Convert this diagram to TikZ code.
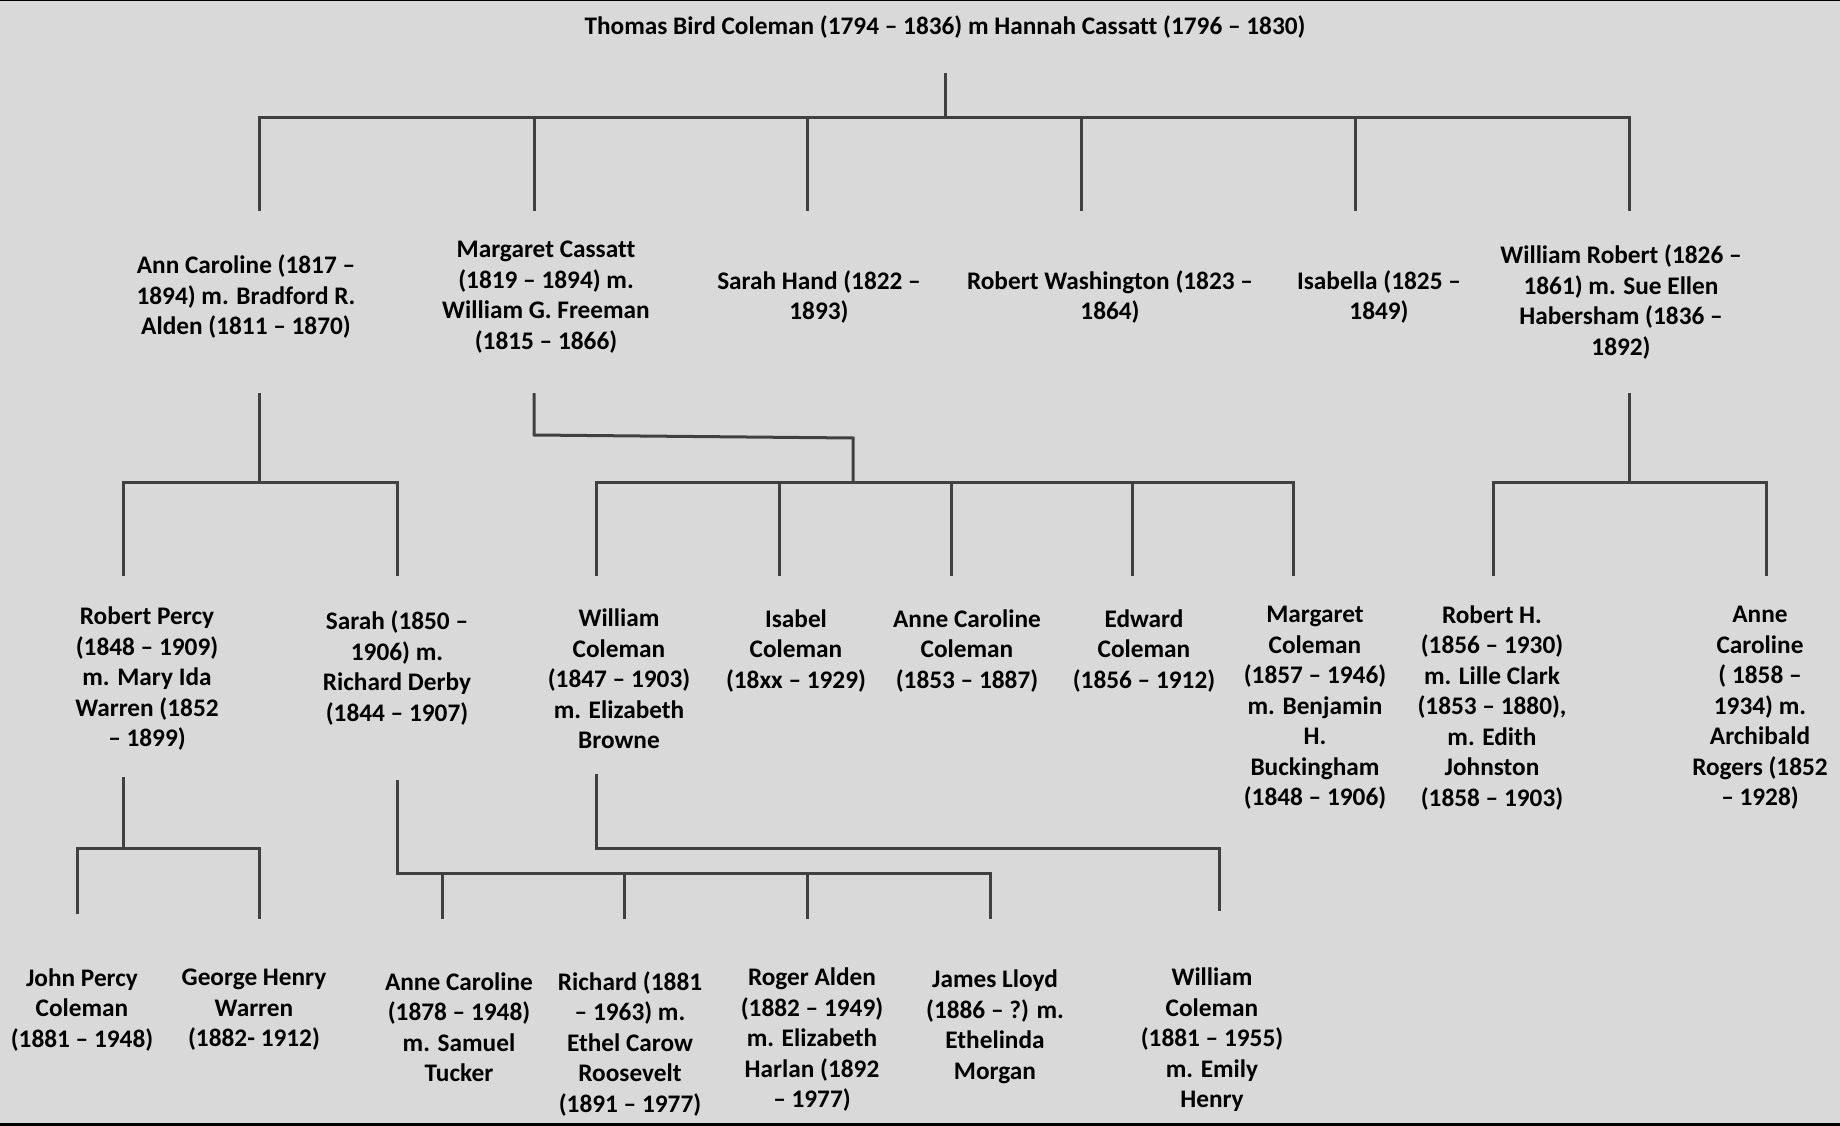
\documentclass[tikz,border=0pt]{standalone}
\usepackage{fontspec}
\setmainfont{Carlito}[Ligatures={NoCommon}]
\definecolor{bg}{RGB}{217,217,217}
\definecolor{linegray}{RGB}{64,64,64}
\tikzset{
  person/.style={align=center, inner sep=0pt, text=black, font=\fontsize{25.3pt}{30.5pt}\selectfont\bfseries},
  treeline/.style={draw=linegray, line width=3pt, line cap=butt, line join=miter}
}
\begin{document}
\begin{tikzpicture}[x=1pt,y=-1pt]
\fill[bg] (0,0) rectangle (1840,1126);
\useasboundingbox (0,0) rectangle (1840,1126);
\draw[black, line width=1.5pt] (0,0.75) -- (1840,0.75);
\draw[black, line width=3pt] (0,1124) -- (1840,1124);

% Level 0
\node[person] (title) at (945,27) {Thomas Bird Coleman (1794 – 1836) m Hannah Cassatt (1796 – 1830)};

% Level 1
\node[person] (ann) at (246,297) {Ann Caroline (1817 –\\1894) m. Bradford R.\\Alden (1811 – 1870)};
\node[person] (marg) at (546,297) {Margaret Cassatt\\(1819 – 1894) m.\\William G. Freeman\\(1815 – 1866)};
\node[person] (sarahh) at (819,297) {Sarah Hand (1822 –\\1893)};
\node[person] (robw) at (1110,297) {Robert Washington (1823 –\\1864)};
\node[person] (isab) at (1379,297) {Isabella (1825 –\\1849)};
\node[person] (willr) at (1621,302) {William Robert (1826 –\\1861) m. Sue Ellen\\Habersham (1836 –\\1892)};

% Level 2
\node[person] (robp) at (147,679) {Robert Percy\\(1848 – 1909)\\m. Mary Ida\\Warren (1852\\– 1899)};
\node[person] (sarah) at (397,668) {Sarah (1850 –\\1906) m.\\Richard Derby\\(1844 – 1907)};
\node[person] (willc) at (619,679) {William\\Coleman\\(1847 – 1903)\\m. Elizabeth\\Browne};
\node[person] (isabc) at (796,651) {Isabel\\Coleman\\(18xx – 1929)};
\node[person] (annec) at (967,651) {Anne Caroline\\Coleman\\(1853 – 1887)};
\node[person] (edw) at (1144,651) {Edward\\Coleman\\(1856 – 1912)};
\node[person] (margc) at (1315,708) {Margaret\\Coleman\\(1857 – 1946)\\m. Benjamin\\H.\\Buckingham\\(1848 – 1906)};
\node[person] (robh) at (1492,708) {Robert H.\\(1856 – 1930)\\m. Lille Clark\\(1853 – 1880),\\m. Edith\\Johnston\\(1858 – 1903)};
\node[person] (anner) at (1760,708) {Anne\\Caroline\\( 1858 –\\1934) m.\\Archibald\\Rogers (1852\\– 1928)};

% Level 3
\node[person] (johnp) at (82,1010) {John Percy\\Coleman\\(1881 – 1948)};
\node[person] (georgeh) at (254,1010) {George Henry\\Warren\\(1882- 1912)};
\node[person] (annet) at (459,1027) {Anne Caroline\\(1878 – 1948)\\m. Samuel\\Tucker};
\node[person] (rich) at (630,1044) {Richard (1881\\– 1963) m.\\Ethel Carow\\Roosevelt\\(1891 – 1977)};
\node[person] (roger) at (812,1040) {Roger Alden\\(1882 – 1949)\\m. Elizabeth\\Harlan (1892\\– 1977)};
\node[person] (james) at (995,1027) {James Lloyd\\(1886 – ?) m.\\Ethelinda\\Morgan};
\node[person] (willc2) at (1212,1040) {William\\Coleman\\(1881 – 1955)\\m. Emily\\Henry};

% ---- connectors level 0 -> 1
\coordinate (t0) at (945,73);
\coordinate (j0) at (945,118);
\coordinate (d1a) at (259,211); \coordinate (b1a) at (259,118);
\coordinate (d1b) at (534,211); \coordinate (b1b) at (534,118);
\coordinate (d1c) at (807,211); \coordinate (b1c) at (807,118);
\coordinate (d1d) at (1081,211); \coordinate (b1d) at (1081,118);
\coordinate (d1e) at (1355,211); \coordinate (b1e) at (1355,118);
\coordinate (d1f) at (1629,211); \coordinate (b1f) at (1629,118);
\draw[treeline] (t0) -- (j0);
\draw[treeline] (d1a) -- (b1a) -- (b1f) -- (d1f);
\draw[treeline] (b1b) -- (d1b);
\draw[treeline] (b1c) -- (d1c);
\draw[treeline] (b1d) -- (d1d);
\draw[treeline] (b1e) -- (d1e);

% ---- Ann Caroline -> children
\coordinate (ta) at (259,393); \coordinate (ja) at (259,482);
\coordinate (ba1) at (123,482); \coordinate (da1) at (123,576);
\coordinate (ba2) at (397,482); \coordinate (da2) at (397,576);
\draw[treeline] (ta) -- (ja);
\draw[treeline] (da1) -- (ba1) -- (ba2) -- (da2);

% ---- Margaret -> children
\coordinate (tm) at (534,393); \coordinate (km1) at (534,435);
\coordinate (km2) at (853,438); \coordinate (jm) at (853,482);
\draw[treeline] (tm) -- (km1) -- (km2) -- (jm);
\coordinate (bm1) at (596,482); \coordinate (dm1) at (596,576);
\coordinate (bm2) at (779,482); \coordinate (dm2) at (779,576);
\coordinate (bm3) at (951,482); \coordinate (dm3) at (951,576);
\coordinate (bm4) at (1132,482); \coordinate (dm4) at (1132,576);
\coordinate (bm5) at (1293,482); \coordinate (dm5) at (1293,576);
\draw[treeline] (dm1) -- (bm1) -- (bm5) -- (dm5);
\draw[treeline] (bm2) -- (dm2);
\draw[treeline] (bm3) -- (dm3);
\draw[treeline] (bm4) -- (dm4);

% ---- William Robert -> children
\coordinate (tw) at (1629,393); \coordinate (jw) at (1629,482);
\coordinate (bw1) at (1493,482); \coordinate (dw1) at (1493,576);
\coordinate (bw2) at (1766,482); \coordinate (dw2) at (1766,576);
\draw[treeline] (tw) -- (jw);
\draw[treeline] (dw1) -- (bw1) -- (bw2) -- (dw2);

% ---- Robert Percy -> children
\coordinate (tp) at (123,777); \coordinate (jp) at (123,848);
\coordinate (bp1) at (77,848); \coordinate (dp1) at (77,914);
\coordinate (bp2) at (259,848); \coordinate (dp2) at (259,919);
\draw[treeline] (tp) -- (jp);
\draw[treeline] (dp1) -- (bp1) -- (bp2) -- (dp2);

% ---- Sarah -> children
\coordinate (ts) at (397,780); \coordinate (js) at (397,873);
\coordinate (bs1) at (442,873); \coordinate (ds1) at (442,919);
\coordinate (bs2) at (624,873); \coordinate (ds2) at (624,919);
\coordinate (bs3) at (807,873); \coordinate (ds3) at (807,919);
\coordinate (bs4) at (990,873); \coordinate (ds4) at (990,919);
\draw[treeline] (ts) -- (js) -- (bs4) -- (ds4);
\draw[treeline] (bs1) -- (ds1);
\draw[treeline] (bs2) -- (ds2);
\draw[treeline] (bs3) -- (ds3);

% ---- William Coleman -> child
\coordinate (tc) at (596,774); \coordinate (jc) at (596,848);
\coordinate (bc1) at (1219,848); \coordinate (dc1) at (1219,911);
\draw[treeline] (tc) -- (jc) -- (bc1) -- (dc1);
\end{tikzpicture}
\end{document}
